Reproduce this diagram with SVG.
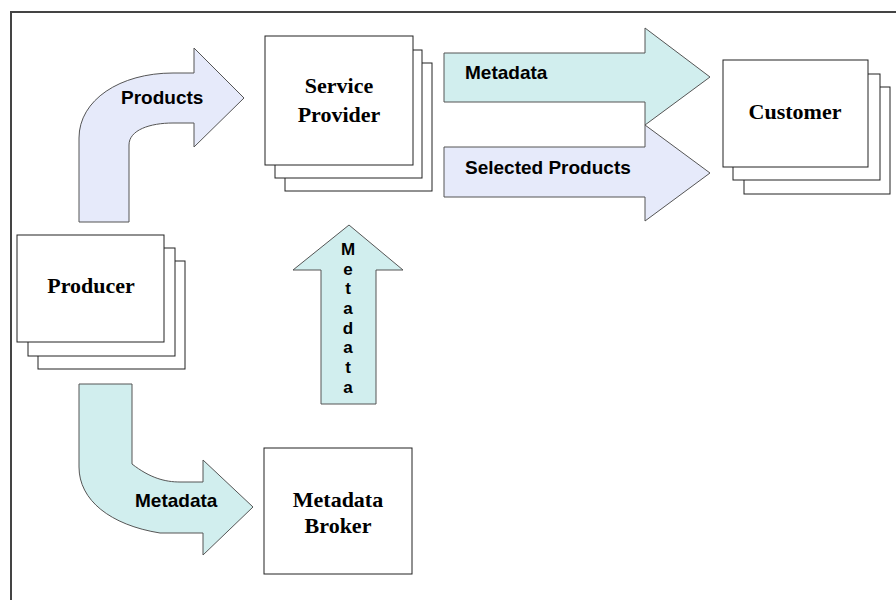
<svg xmlns="http://www.w3.org/2000/svg" width="896" height="600" viewBox="0 0 896 600">
  <defs>
    <style>
      .frame { fill: none; stroke: #444; stroke-width: 2; }
      .card { fill: #fff; stroke: #222; stroke-width: 1; }
      .prod { fill: #e6eafa; stroke: #555; stroke-width: 1; }
      .meta { fill: #d1eeee; stroke: #555; stroke-width: 1; }
      .lbl { font-family: "Liberation Sans", Arial, sans-serif; font-weight: bold; font-size: 19px; fill: #000; }
      .vlbl { font-family: "Liberation Sans", Arial, sans-serif; font-weight: bold; font-size: 17px; fill: #000; text-anchor: middle; }
      .name { font-family: "Liberation Serif", "Times New Roman", serif; font-weight: bold; font-size: 22px; fill: #000; text-anchor: middle; }
    </style>
  </defs>
  <rect width="896" height="600" fill="#fff"/>
  <path class="frame" d="M11,600 V12 H896"/>

  <g id="connectors">
    <!-- Producer to Service Provider: Products -->
    <g id="arrow-products">
      <path class="prod" d="M79,222 V138 C79,100 120,73 173,73 H194 V48 L244,98 L194,147 V123 H173 C150,123 129,130 129,145 V222 Z"/>
      <text class="lbl" x="121" y="104">Products</text>
    </g>
    <!-- Service Provider to Customer: Metadata -->
    <g id="arrow-sp-meta">
      <path class="meta" d="M444,53 H645 V28 L710,77 L645,125 V102 H444 Z"/>
      <text class="lbl" x="465" y="79">Metadata</text>
    </g>
    <!-- Service Provider to Customer: Selected Products -->
    <g id="arrow-sp-products">
      <path class="prod" d="M444,147 H645 V125 L710,173 L645,221 V197 H444 Z"/>
      <text class="lbl" x="465" y="174">Selected Products</text>
    </g>
    <!-- Metadata Broker up to Service Provider -->
    <g id="arrow-up-meta">
      <path class="meta" d="M321,404 V270 H293 L349,225 L403,270 H376 V404 Z"/>
      <text class="vlbl" x="348" y="255">M</text>
      <text class="vlbl" x="348" y="275">e</text>
      <text class="vlbl" x="348" y="294">t</text>
      <text class="vlbl" x="348" y="314">a</text>
      <text class="vlbl" x="348" y="334">d</text>
      <text class="vlbl" x="348" y="353">a</text>
      <text class="vlbl" x="348" y="373">t</text>
      <text class="vlbl" x="348" y="393">a</text>
    </g>
    <!-- Producer to Metadata Broker: Metadata -->
    <g id="arrow-broker-meta">
      <path class="meta" d="M79,384 H132 V464 C150,478 165,482 180,482 H203 V460 L253,507 L203,555 V533 H160 C110,525 79,500 79,467 Z"/>
      <text class="lbl" x="135" y="507">Metadata</text>
    </g>
  </g>

  <g id="service-provider">
    <rect class="card" x="285" y="63" width="147" height="128"/>
    <rect class="card" x="275" y="50" width="147" height="128"/>
    <rect class="card" x="265" y="36" width="148" height="129"/>
    <text class="name" x="339" y="93">Service</text>
    <text class="name" x="339" y="122">Provider</text>
  </g>

  <g id="customer">
    <rect class="card" x="744" y="87" width="146" height="107"/>
    <rect class="card" x="733" y="74" width="147" height="106"/>
    <rect class="card" x="723" y="60" width="145" height="107"/>
    <text class="name" x="795" y="119">Customer</text>
  </g>

  <g id="producer">
    <rect class="card" x="38" y="261" width="147" height="108"/>
    <rect class="card" x="28" y="248" width="147" height="108"/>
    <rect class="card" x="17" y="235" width="147" height="107"/>
    <text class="name" x="91" y="293">Producer</text>
  </g>

  <g id="metadata-broker">
    <rect class="card" x="264" y="448" width="148" height="126"/>
    <text class="name" x="338" y="507">Metadata</text>
    <text class="name" x="338" y="533">Broker</text>
  </g>
</svg>
